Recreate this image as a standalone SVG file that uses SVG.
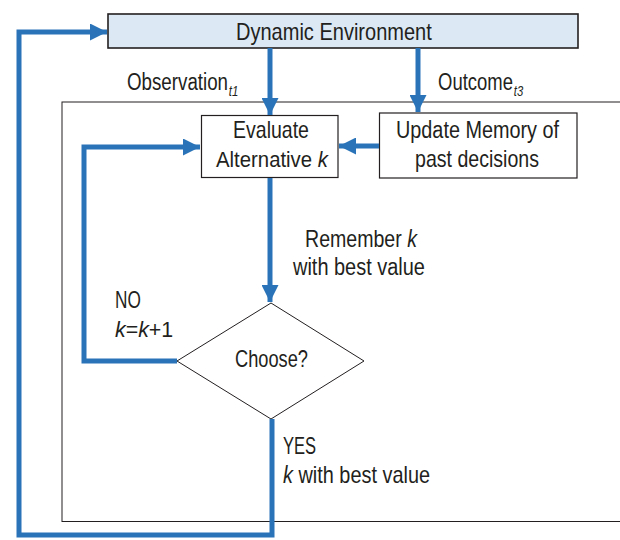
<svg xmlns="http://www.w3.org/2000/svg" width="620" height="540" viewBox="0 0 620 540">
<style>
text{font-family:"Liberation Sans",Arial,sans-serif;fill:#231f20;font-size:23px}
.box{fill:#fff;stroke:#231f20;stroke-width:1.2}
.conn{fill:none;stroke:#2a73b8;stroke-width:5}
.sub{font-size:14px;font-style:italic}
.it{font-style:italic}
</style>
<defs>
<marker id="ah" viewBox="0 0 10 10" refX="10" refY="5" markerWidth="3.4" markerHeight="3.4" orient="auto" markerUnits="strokeWidth">
<path d="M0,0 L10,5 L0,10 z" fill="#2a73b8"/>
</marker>
</defs>
<rect x="62" y="102" width="570" height="419.5" fill="none" stroke="#231f20" stroke-width="1"/>
<g id="env">
<rect x="108" y="14" width="470" height="34" fill="#dce9f5" stroke="#231f20" stroke-width="1.6"/>
<text transform="translate(236,40) scale(0.871,1)" font-size="25">Dynamic Environment</text>
</g>
<g id="evaluate">
<rect class="box" x="201.5" y="115.5" width="136.5" height="62"/>
<text transform="translate(233,138) scale(0.849,1)">Evaluate</text>
<text transform="translate(216,167) scale(0.885,1)">Alternative <tspan class="it">k</tspan></text>
</g>
<g id="update">
<rect class="box" x="379.5" y="113" width="197.5" height="65"/>
<text transform="translate(396,138) scale(0.862,1)">Update Memory of</text>
<text transform="translate(415,167) scale(0.851,1)">past decisions</text>
</g>
<g id="choose">
<polygon points="271,303 364,361 271,419 177,361" fill="#fff" stroke="#231f20" stroke-width="1"/>
<text transform="translate(235,367) scale(0.793,1)">Choose?</text>
</g>
<g id="connectors">
<path class="conn" d="M270,48 V115" marker-end="url(#ah)"/>
<path class="conn" d="M418,48 V112" marker-end="url(#ah)"/>
<path class="conn" d="M379,146 H339" marker-end="url(#ah)"/>
<path class="conn" d="M270,178 V302" marker-end="url(#ah)"/>
<path class="conn" d="M177,361 H84 V147 H200" marker-end="url(#ah)"/>
<path class="conn" d="M272,419 V535 H19 V32 H107" marker-end="url(#ah)"/>
</g>
<g id="labels">
<text transform="translate(127,90) scale(0.815,1)">Observation<tspan class="sub" dx="1" dy="6">t1</tspan></text>
<text transform="translate(438,90) scale(0.804,1)">Outcome<tspan class="sub" dx="1" dy="6">t3</tspan></text>
<text transform="translate(305,247) scale(0.851,1)">Remember <tspan class="it">k</tspan></text>
<text transform="translate(293,275) scale(0.868,1)">with best value</text>
<text transform="translate(115,308) scale(0.75,1)">NO</text>
<text transform="translate(115,337) scale(0.93,1)"><tspan class="it">k</tspan>=<tspan class="it">k</tspan>+1</text>
<text transform="translate(283,454) scale(0.72,1)">YES</text>
<text transform="translate(283,483) scale(0.865,1)"><tspan class="it">k</tspan> with best value</text>
</g>
</svg>
